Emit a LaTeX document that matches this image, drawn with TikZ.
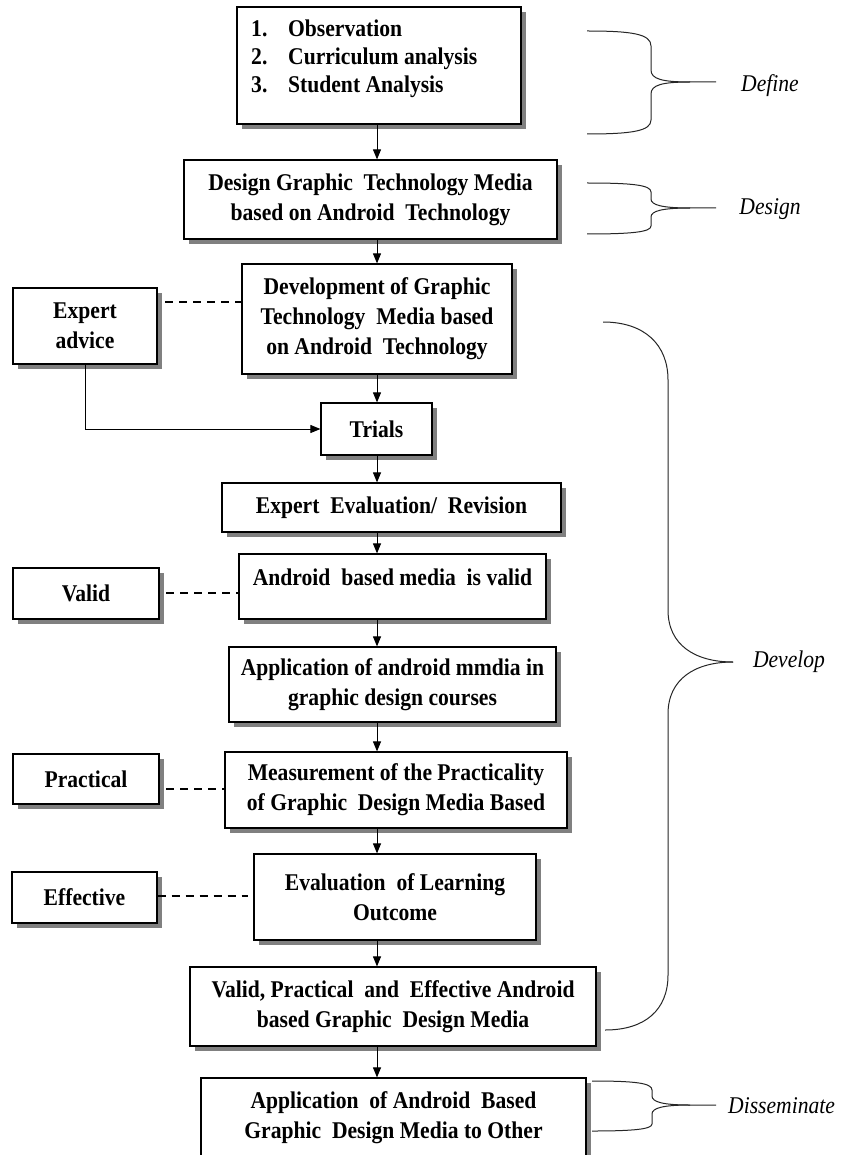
\documentclass[tikz,border=0pt]{standalone}
\usepackage{fontspec}
\setmainfont{Liberation Serif}[FakeStretch=0.9]
\usetikzlibrary{shadows,arrows.meta,calc}
\begin{document}
\begin{tikzpicture}[x=1pt,y=-1pt,
  box/.style={draw=black, line width=1.2pt, fill=white,
    drop shadow={shadow xshift=5pt, shadow yshift=-5pt, fill=black!50, opacity=1},
    inner sep=0pt, align=center, font=\bfseries\fontsize{24}{30}\selectfont},
  arr/.style={line width=1pt, -{Triangle[length=10pt,width=8pt]}},
  dsh/.style={line width=1.4pt, dash pattern=on 8pt off 6pt},
  brc/.style={line width=1pt, draw=black!85},
  lbl/.style={font=\itshape\fontsize{24}{28}\selectfont, inner sep=0pt}
]
\useasboundingbox (0,0) rectangle (861,1155);
\fill[white] (0,0) rectangle (861,1155);

% main column
\node[box, minimum width=284pt, minimum height=117pt] (def) at (379,65.5) {};
\node[anchor=north west, align=left, inner sep=0pt, font=\bfseries\fontsize{24}{28}\selectfont] (deflist) at (251,20)
  {\makebox[37pt][l]{1.}Observation\\\makebox[37pt][l]{2.}Curriculum analysis\\\makebox[37pt][l]{3.}Student Analysis};
\node[box, minimum width=373pt, minimum height=79pt] (des) at (370.5,199.5) {Design Graphic~ Technology Media\\based on Android~ Technology};
\node[box, minimum width=270pt, minimum height=110pt] (dev) at (377,319) {Development of Graphic\\Technology~ Media based\\on Android~ Technology};
\node[box, minimum width=111pt, minimum height=52pt] (trials) at (376.5,429) {Trials};
\node[box, minimum width=339pt, minimum height=49pt] (expeval) at (391.5,507.5) {Expert~ Evaluation/~ Revision};
\node[box, minimum width=307pt, minimum height=65pt, text height=17pt, text depth=20pt] (andv) at (392.5,586.5) {Android~ based media~ is valid};
\node[box, minimum width=327pt, minimum height=75pt] (app) at (392.5,684.5) {Application of android mmdia in\\graphic design courses};
\node[box, minimum width=342pt, minimum height=76pt] (meas) at (396,790) {Measurement of the Practicality\\of Graphic~ Design Media Based};
\node[box, minimum width=282pt, minimum height=86pt] (eval) at (395,897) {Evaluation~ of Learning\\Outcome};
\node[box, minimum width=406pt, minimum height=79pt] (vpe) at (393,1006.5) {Valid, Practical~ and~ Effective Android\\based Graphic~ Design Media};
\node[box, minimum width=385pt, minimum height=79pt] (fin) at (393.5,1117.5) {Application~ of Android~ Based\\Graphic~ Design Media to Other};

% left column
\node[box, minimum width=144pt, minimum height=76pt] (expert) at (85,326) {Expert\\advice};
\node[box, minimum width=146pt, minimum height=51pt] (valid) at (86,593.5) {Valid};
\node[box, minimum width=146pt, minimum height=50pt] (prac) at (86,779) {Practical};
\node[box, minimum width=145pt, minimum height=51pt] (effe) at (84.5,897.5) {Effective};

% arrows
\coordinate (ax) at (377,0);
\draw[arr] (def.south -| ax) -- (des.north -| ax);
\draw[arr] (des.south -| ax) -- (dev.north -| ax);
\draw[arr] (dev.south -| ax) -- (trials.north -| ax);
\draw[arr] (trials.south -| ax) -- (expeval.north -| ax);
\draw[arr] (expeval.south -| ax) -- (andv.north -| ax);
\draw[arr] (andv.south -| ax) -- (app.north -| ax);
\draw[arr] (app.south -| ax) -- (meas.north -| ax);
\draw[arr] (meas.south -| ax) -- (eval.north -| ax);
\draw[arr] (eval.south -| ax) -- (vpe.north -| ax);
\draw[arr] (vpe.south -| ax) -- (fin.north -| ax);
\draw[arr] (expert.south) |- (trials.west);

% dashed links
\coordinate (dA) at (165,302);
\coordinate (dB) at (166,593);
\coordinate (dC) at (166,789);
\coordinate (dD) at (248,896);
\draw[dsh] (dA) -- (dev.west |- dA);
\draw[dsh] (dB) -- (andv.west |- dB);
\draw[dsh] (dC) -- (meas.west |- dC);
\draw[dsh] (effe.east |- dD) -- (dD);

% braces
\draw[brc] (587,31) .. controls (632,31) and (651,34) .. (651,46) -- (651,70) .. controls (651,79) and (662,82) .. (690,82) -- (716,82);
\draw[brc] (690,82) .. controls (662,82) and (651,85) .. (651,94) -- (651,120) .. controls (651,131) and (632,134) .. (587,134);

\draw[brc] (587,183) .. controls (632,183) and (651,185) .. (651,192) -- (651,199) .. controls (651,205) and (662,208) .. (690,208) -- (716,208);
\draw[brc] (690,208) .. controls (662,208) and (651,211) .. (651,217) -- (651,226) .. controls (651,232) and (632,234) .. (587,234);

\draw[brc] (603,322) .. controls (645,322) and (668,345) .. (668,380) -- (668,610) .. controls (668,645) and (695,662) .. (733,662);
\draw[brc] (733,662) .. controls (695,662) and (668,679) .. (668,714) -- (668,975) .. controls (668,1010) and (645,1030) .. (605,1030);

\draw[brc] (592,1081) .. controls (635,1081) and (652,1083) .. (652,1090) -- (652,1096) .. controls (652,1102) and (663,1105) .. (690,1105) -- (716,1105);
\draw[brc] (690,1105) .. controls (663,1105) and (652,1108) .. (652,1114) -- (652,1124) .. controls (652,1129) and (635,1131) .. (592,1131);

% labels
\node[lbl, anchor=base] (ldef) at (770,92) {Define};
\node[lbl, anchor=base] (ldes) at (770,215) {Design};
\node[lbl, anchor=base] (ldev) at (789,667) {Develop};
\node[lbl, anchor=base west] (ldis) at (728,1113) {Disseminate};
\end{tikzpicture}
\end{document}
